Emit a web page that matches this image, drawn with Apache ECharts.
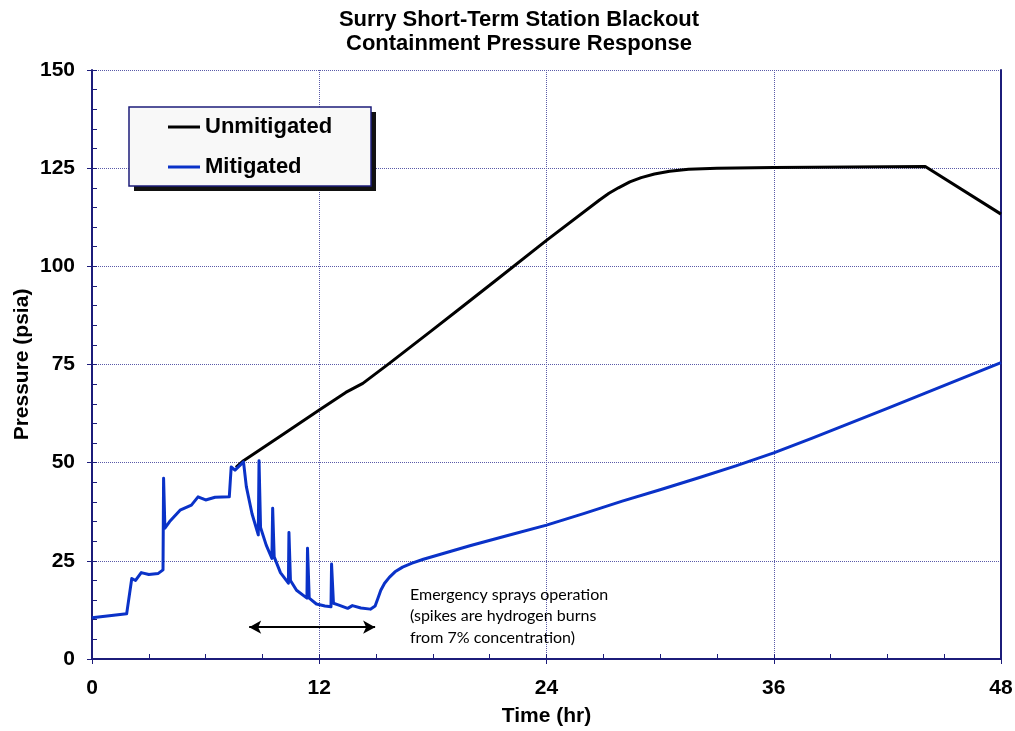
<!DOCTYPE html>
<html>
<head>
<meta charset="utf-8">
<script src="https://cdn.jsdelivr.net/npm/echarts@6/dist/echarts.min.js"></script>
<style>
html,body{margin:0;padding:0;background:#fff;}
#chart{width:1015px;height:731px;}
</style>
</head>
<body>
<div id="chart"></div>
<script>
// ---- data ----
const titleLines = ['Surry Short-Term Station Blackout', 'Containment Pressure Response'];
const xTicks = [0, 12, 24, 36, 48];
const yTicks = [0, 25, 50, 75, 100, 125, 150];
const seriesNames = ['Unmitigated', 'Mitigated'];

const unmitT = [7.6, 8.0, 9.9, 12.0, 13.4, 14.3, 15.7, 17.9, 19.6, 21.4, 24.0, 26.8, 27.3, 27.8, 28.4, 29.0, 29.7, 30.5, 31.5, 33.0, 36.0, 44.0, 48.0];
const unmitP = [48.8, 50.5, 56.6, 63.4, 67.9, 70.2, 75.3, 83.5, 89.9, 96.7, 106.6, 116.9, 118.6, 120.0, 121.5, 122.6, 123.5, 124.2, 124.7, 125.0, 125.2, 125.4, 113.3];

const mitT = [0, 1.83, 2.1, 2.3, 2.6, 3.0, 3.5, 3.75, 3.78, 3.85, 4.1, 4.65, 5.25, 5.6, 6.0, 6.5, 7.25, 7.35, 7.55, 8.0, 8.15, 8.45, 8.78, 8.82, 8.9, 9.2, 9.5, 9.54, 9.62, 9.95, 10.37, 10.4, 10.48, 10.8, 11.35, 11.38, 11.47, 11.85, 12.3, 12.62, 12.65, 12.75, 13.0, 13.5, 13.75, 14.2, 14.7, 14.95, 15.1, 15.25, 15.45, 15.7, 16.0, 16.4, 16.9, 17.5, 18.5, 20.0, 22.0, 24.0, 26.0, 28.0, 30.0, 32.0, 34.0, 36.0, 38.0, 40.0, 42.0, 44.0, 46.0, 48.0];
const mitP = [10.5, 11.5, 20.5, 20.0, 22.0, 21.5, 21.8, 22.7, 46.0, 33.3, 35.0, 37.9, 39.2, 41.3, 40.5, 41.2, 41.3, 48.9, 48.1, 50.2, 43.9, 37.0, 31.6, 50.5, 33.5, 29.0, 25.6, 38.4, 26.0, 22.0, 19.3, 32.2, 20.0, 17.5, 15.5, 28.2, 15.5, 14.0, 13.5, 13.3, 24.2, 14.2, 13.8, 12.9, 13.6, 13.0, 12.7, 13.5, 15.5, 17.5, 19.3, 20.8, 22.2, 23.4, 24.4, 25.4, 26.8, 28.9, 31.5, 34.1, 37.1, 40.2, 43.1, 46.1, 49.2, 52.5, 56.2, 60.0, 63.8, 67.7, 71.6, 75.5];

// spray-operation arrow span (time, hr) and its height (psia)
const arrowSpan = [8.3, 14.95];
const arrowLevel = 8.1;
const noteLines = ['Emergency sprays operation', '(spikes are hydrogen burns', 'from 7% concentration)'];

// ---- chart ----
const navy = '#1c1c7a';
const gridColor = '#5a5aa8';
const fam = 'Liberation Sans, Arial, sans-serif';
const bold = {fontFamily: fam, fontWeight: 'bold', color: '#000'};

const zip = (a, b) => a.map((v, i) => [v, b[i]]);

const chart = echarts.init(document.getElementById('chart'), null, {renderer: 'canvas'});

const gridSplit = {show: true, lineStyle: {color: gridColor, width: 1, type: [1, 1]}};

const option = {
  backgroundColor: '#fff',
  animation: false,
  grid: {left: 92, right: 14, top: 70, bottom: 72, containLabel: false, outerBoundsMode: 'none'},
  legend: {
    orient: 'vertical',
    left: 168, top: 116, z: 10,
    data: seriesNames,
    icon: 'rect',
    itemWidth: 32, itemHeight: 3,
    itemGap: 18, padding: 0,
    textStyle: Object.assign({fontSize: 22, lineHeight: 22}, bold),
    selectedMode: false
  },
  xAxis: [{
    type: 'value', min: xTicks[0], max: xTicks[xTicks.length - 1], interval: 12,
    name: 'Time (hr)', nameLocation: 'middle', nameGap: 47, nameMoveOverlap: false,
    nameTextStyle: Object.assign({fontSize: 21}, bold),
    axisLine: {show: true, onZero: false, lineStyle: {color: navy, width: 2}},
    axisTick: {show: true, inside: true, length: 5, lineStyle: {color: navy}},
    minorTick: {show: true, splitNumber: 4, length: 5, lineStyle: {color: navy}},
    axisLabel: Object.assign({fontSize: 21, margin: 19}, bold),
    splitLine: gridSplit
  }, {
    type: 'value', min: xTicks[0], max: xTicks[xTicks.length - 1], interval: 12, position: 'bottom',
    axisLine: {show: false}, axisLabel: {show: false}, splitLine: {show: false},
    axisTick: {show: true, inside: false, length: 5, lineStyle: {color: navy}}
  }],
  yAxis: [{
    type: 'value', min: yTicks[0], max: yTicks[yTicks.length - 1], interval: 25,
    name: 'Pressure (psia)', nameLocation: 'middle', nameGap: 59, nameMoveOverlap: false,
    nameTextStyle: Object.assign({fontSize: 21}, bold),
    axisLine: {show: true, onZero: false, lineStyle: {color: navy, width: 2}},
    axisTick: {show: true, inside: true, length: 5, lineStyle: {color: navy}},
    minorTick: {show: true, splitNumber: 5, length: 5, lineStyle: {color: navy}},
    axisLabel: Object.assign({fontSize: 21, margin: 17}, bold),
    splitLine: gridSplit
  }, {
    type: 'value', min: yTicks[0], max: yTicks[yTicks.length - 1], interval: 25, position: 'left',
    axisLine: {show: false}, axisLabel: {show: false}, splitLine: {show: false},
    axisTick: {show: true, inside: false, length: 5, lineStyle: {color: navy}}
  }, {
    type: 'value', min: yTicks[0], max: yTicks[yTicks.length - 1], interval: 25, position: 'right',
    axisLine: {show: true, onZero: false, lineStyle: {color: navy, width: 2}},
    axisLabel: {show: false}, splitLine: {show: false}, axisTick: {show: false}
  }],
  series: [{
    name: seriesNames[0], type: 'line', xAxisIndex: 0, yAxisIndex: 0,
    data: zip(unmitT, unmitP), showSymbol: false, symbol: 'none',
    lineStyle: {color: '#000', width: 3, join: 'round'}, itemStyle: {color: '#000'}
  }, {
    name: seriesNames[1], type: 'line', xAxisIndex: 0, yAxisIndex: 0,
    data: zip(mitT, mitP), showSymbol: false, symbol: 'none',
    lineStyle: {color: '#0a32c8', width: 3, join: 'round'}, itemStyle: {color: '#0a32c8'},
    markLine: {
      silent: true, symbol: ['arrow', 'arrow'], symbolSize: [10, 12],
      lineStyle: {color: '#000', width: 2, type: 'solid'},
      label: {show: false},
      data: [[{coord: [arrowSpan[0], arrowLevel]}, {coord: [arrowSpan[1], arrowLevel]}]]
    }
  }],
  graphic: [{
    type: 'text', x: 519, y: 8, z: 5,
    style: {text: titleLines.join('\n'), fontSize: 22, lineHeight: 24, fontWeight: 'bold',
      fontFamily: fam, fill: '#000', textAlign: 'center', textVerticalAlign: 'top'}
  }, {
    type: 'rect', z: 5, shape: {x: 134, y: 112, width: 242, height: 79},
    style: {fill: '#111'}
  }, {
    type: 'rect', z: 6, shape: {x: 129, y: 107, width: 242, height: 79},
    style: {fill: '#f8f8f8', stroke: navy, lineWidth: 1.5}
  }, {
    type: 'text', x: 410, y: 584, z: 5,
    style: {text: noteLines.join('\n'), fontSize: 16, lineHeight: 21.5,
      fontFamily: 'Lato, sans-serif', fill: '#000', textVerticalAlign: 'top'}
  }]
};
chart.setOption(option);
</script>
</body>
</html>
